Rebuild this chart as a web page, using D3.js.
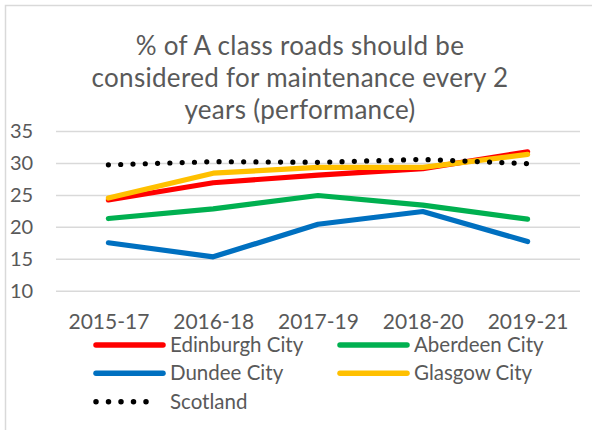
<!DOCTYPE html>
<html><head><meta charset="utf-8">
<script src="https://cdn.jsdelivr.net/npm/d3@7"></script>
<style>body{margin:0;background:#fff}svg{display:block}text{font-family:Lato,"Open Sans",sans-serif;fill:#595959}</style>
</head><body><svg id="c" width="592" height="430"></svg>
<script>
const categories = ["2015-17","2016-18","2017-19","2018-20","2019-21"];
const edinburgh = [24.2, 26.9, 28.1, 29.1, 31.75];
const aberdeen  = [21.3, 22.8, 24.9, 23.4, 21.2];
const dundee    = [17.5, 15.3, 20.4, 22.4, 17.7];
const glasgow   = [24.5, 28.4, 29.3, 29.3, 31.35];
const scotland  = [29.7, 30.2, 30.1, 30.55, 29.9];
const yTicks = [10,15,20,25,30,35];
const titleLines = ["% of A class roads should be","considered for maintenance every 2","years (performance)"];

const series = [
  {name:"Edinburgh City", values:edinburgh, color:"#FF0000"},
  {name:"Aberdeen City", values:aberdeen, color:"#00B050"},
  {name:"Dundee City", values:dundee, color:"#0070C0"},
  {name:"Glasgow City", values:glasgow, color:"#FFC000"},
  {name:"Scotland", values:scotland, color:"#000000", dotted:true}
];

const svg = d3.select("#c");
svg.append("rect").attr("x",5.5).attr("y",5.5).attr("width",600).attr("height",440)
  .attr("fill","#fff").attr("stroke","#d9d9d9").attr("stroke-width",1.5);

const x = d3.scalePoint().domain(categories).range([56,580]).padding(0.5);
const y = d3.scaleLinear().domain([10,35]).range([290.7,131]);

svg.append("g").selectAll("text").data(titleLines).join("text")
  .attr("x",300).attr("y",(d,i)=>55+i*32).attr("text-anchor","middle")
  .attr("font-size",26).attr("letter-spacing",0.3).text(d=>d);

const yAxis = d3.axisLeft(y).tickValues(yTicks).tickSize(-(580-56)).tickPadding(0);
const gy = svg.append("g").attr("transform","translate(56,0)").call(yAxis);
gy.select(".domain").remove();
gy.selectAll(".tick line").attr("stroke","#d9d9d9").attr("stroke-width",1.5);
gy.selectAll(".tick text").attr("font-size",20).attr("fill","#595959")
  .attr("x",-46).attr("text-anchor","start");

const xAxis = d3.axisBottom(x).tickSize(0).tickPadding(0);
const gx = svg.append("g").attr("transform","translate(0,314)").call(xAxis);
gx.select(".domain").remove();
gx.selectAll(".tick text").attr("font-size",21).attr("fill","#595959").attr("dy","0.71em");

const line = d3.line().x((d,i)=>x(categories[i])).y(d=>y(d));
svg.append("g").selectAll("path").data(series).join("path")
  .attr("d",d=>line(d.values)).attr("fill","none").attr("stroke",d=>d.color)
  .attr("stroke-width",5.2)
  .attr("stroke-linecap","round").attr("stroke-linejoin","round")
  .attr("stroke-dasharray",d=>d.dotted?"0 12.3":null);

const legPos = [[96,345],[340,345],[96,373.3],[340,373.3],[96,401.7]];
const lg = svg.append("g").selectAll("g").data(series).join("g")
  .attr("transform",(d,i)=>`translate(${legPos[i][0]},${legPos[i][1]})`);
lg.append("line").attr("x1",0).attr("x2",d=>d.dotted?62.5:67).attr("y1",0).attr("y2",0)
  .attr("stroke",d=>d.color).attr("stroke-width",5.5)
  .attr("stroke-linecap","round").attr("stroke-dasharray",d=>d.dotted?"0 12.5":null);
lg.append("text").attr("x",74).attr("y",0).attr("dy","0.35em").attr("font-size",20.5).text(d=>d.name);
</script></body></html>
